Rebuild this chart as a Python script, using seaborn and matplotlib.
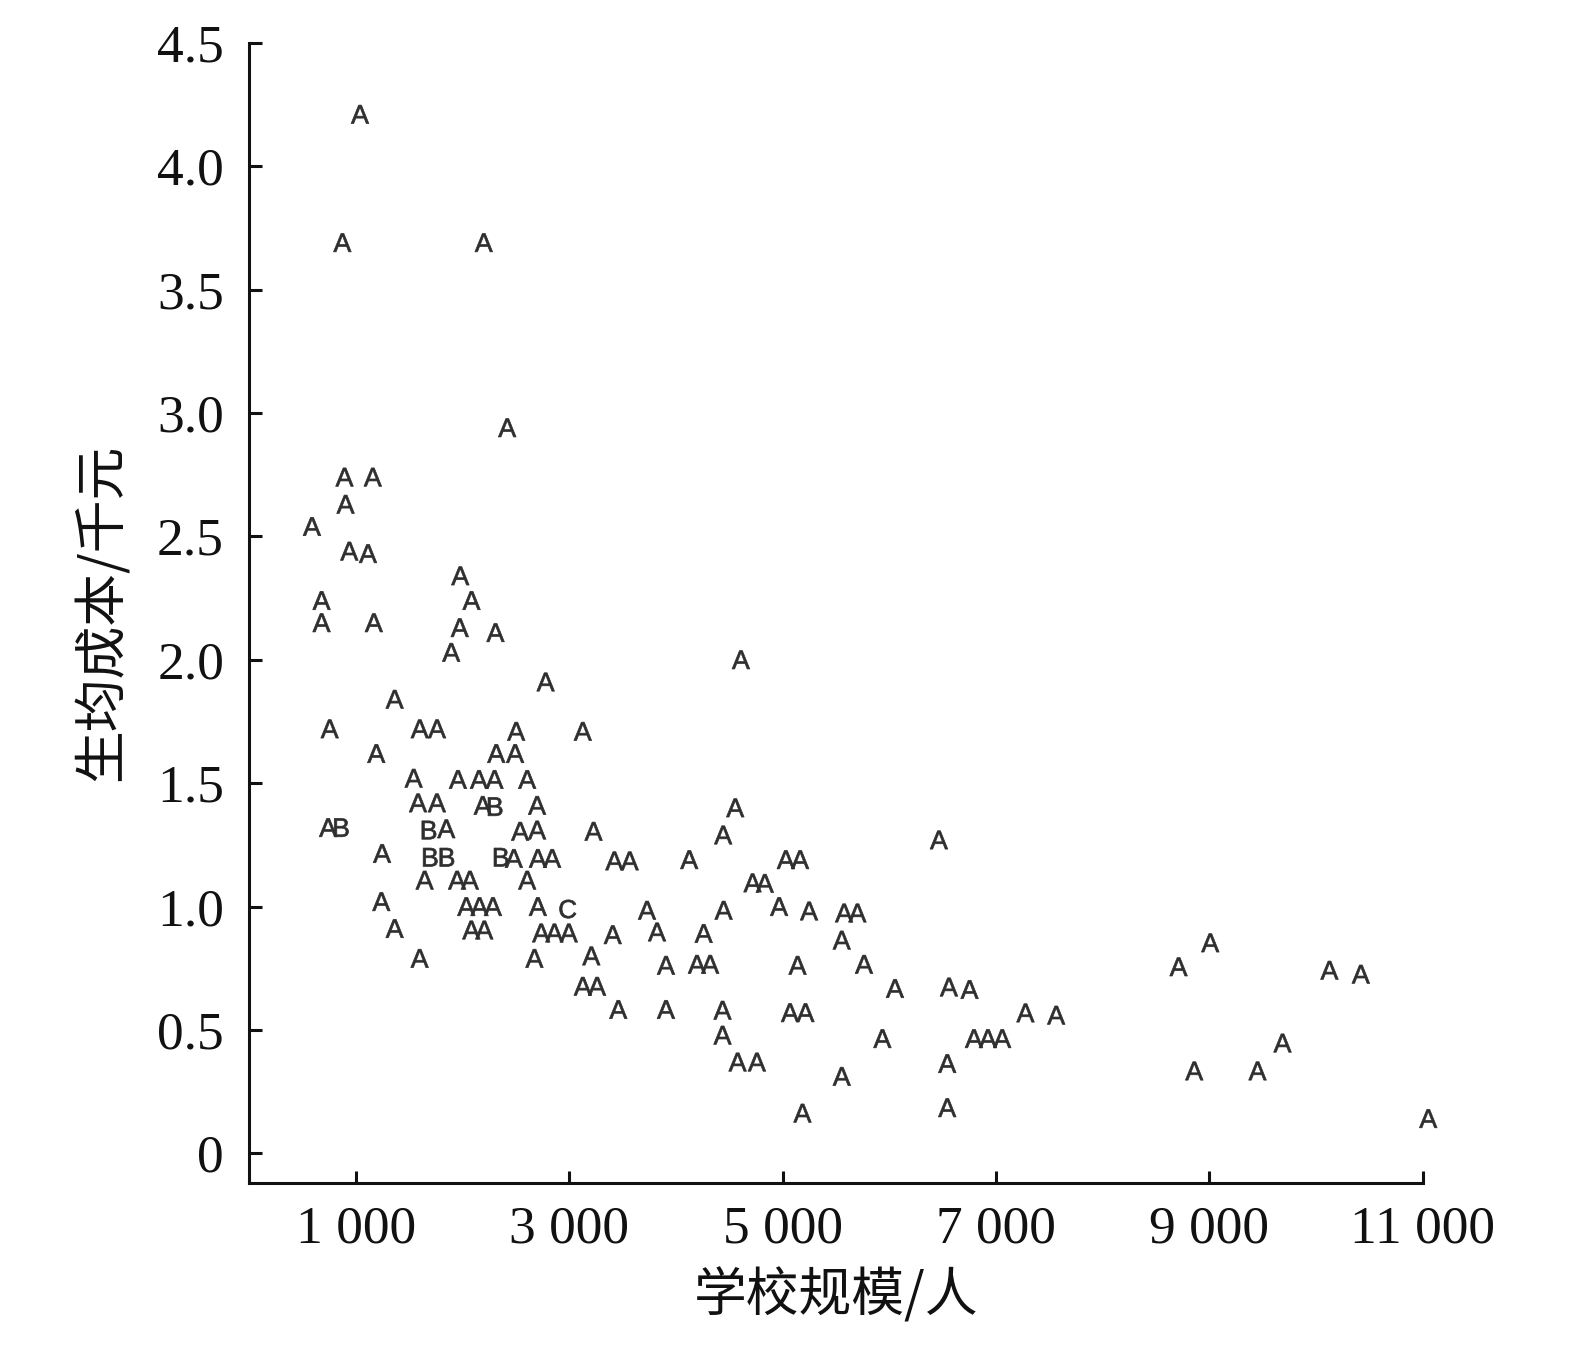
import matplotlib
matplotlib.use("Agg")
import matplotlib.pyplot as plt
import pandas as pd
import seaborn as sns

# ---- data ----
school_size = [
    1040, 875, 2200, 2420, 895, 1160, 905, 590, 940, 1115,
    1980, 2085, 680, 680, 1170, 1975, 2310, 1895, 4610, 2780,
    1365, 756, 1600, 1762, 2504, 3128, 1193, 2317, 2494, 1543,
    1958, 2155, 2301, 2607, 1584, 1761, 2190, 2307, 2700, 4557,
    741, 866, 1687, 1849, 2541, 2700, 3229, 4444, 6466, 1247,
    1699, 1855, 2363, 2482, 2707, 2841, 3424, 3568, 4126, 5031,
    5165, 1646, 1950, 2070, 2607, 4719, 4834, 1240, 2036, 2160,
    2286, 2707, 2988, 3730, 4448, 4968, 5249, 5577, 5702, 1365,
    2083, 2205, 2738, 2862, 2997, 3409, 3824, 4261, 5555, 3208,
    1599, 2675, 3908, 4198, 4322, 5141, 5764, 8712, 9009, 10126,
    10420, 3128, 3262, 6054, 6560, 6753, 3461, 3908, 4438, 5070,
    5215, 7277, 7565, 4438, 5936, 6794, 6925, 7059, 9686, 4579,
    4760, 6544, 8859, 9452, 5555, 6544, 5187, 11052,
]
unit_cost = [
    4.21, 3.69, 3.69, 2.94, 2.74, 2.74, 2.63, 2.54, 2.44, 2.43,
    2.34, 2.24, 2.24, 2.15, 2.15, 2.13, 2.11, 2.03, 2.00, 1.91,
    1.84, 1.72, 1.72, 1.72, 1.71, 1.71, 1.62, 1.62, 1.62, 1.52,
    1.515, 1.515, 1.515, 1.515, 1.42, 1.42, 1.41, 1.405, 1.41, 1.40,
    1.32, 1.32, 1.31, 1.315, 1.305, 1.31, 1.305, 1.29, 1.27, 1.215,
    1.20, 1.20, 1.20, 1.195, 1.195, 1.195, 1.185, 1.185, 1.19, 1.19,
    1.19, 1.107, 1.107, 1.107, 1.107, 1.096, 1.094, 1.02, 1.00, 1.00,
    1.00, 1.00, 0.99, 0.985, 0.985, 1.00, 0.982, 0.974, 0.974, 0.911,
    0.905, 0.905, 0.893, 0.893, 0.893, 0.886, 0.897, 0.891, 0.864, 0.80,
    0.79, 0.79, 0.762, 0.766, 0.766, 0.762, 0.766, 0.756, 0.853, 0.742,
    0.726, 0.677, 0.677, 0.668, 0.674, 0.664, 0.583, 0.583, 0.58, 0.57,
    0.57, 0.569, 0.560, 0.479, 0.465, 0.465, 0.465, 0.465, 0.447, 0.370,
    0.370, 0.364, 0.334, 0.334, 0.312, 0.185, 0.163, 0.141,
]
point_letter = [
    "A", "A", "A", "A", "A", "A", "A", "A", "A", "A",
    "A", "A", "A", "A", "A", "A", "A", "A", "A", "A",
    "A", "A", "A", "A", "A", "A", "A", "A", "A", "A",
    "A", "A", "A", "A", "A", "A", "A", "B", "A", "A",
    "A", "B", "B", "A", "A", "A", "A", "A", "A", "A",
    "B", "B", "B", "A", "A", "A", "A", "A", "A", "A",
    "A", "A", "A", "A", "A", "A", "A", "A", "A", "A",
    "A", "A", "C", "A", "A", "A", "A", "A", "A", "A",
    "A", "A", "A", "A", "A", "A", "A", "A", "A", "A",
    "A", "A", "A", "A", "A", "A", "A", "A", "A", "A",
    "A", "A", "A", "A", "A", "A", "A", "A", "A", "A",
    "A", "A", "A", "A", "A", "A", "A", "A", "A", "A",
    "A", "A", "A", "A", "A", "A", "A", "A",
]

x_ticks = [1000, 3000, 5000, 7000, 9000, 11000]
x_tick_labels = ["1 000", "3 000", "5 000", "7 000", "9 000", "11 000"]
y_ticks = [0, 0.5, 1.0, 1.5, 2.0, 2.5, 3.0, 3.5, 4.0, 4.5]
y_tick_labels = ["0", "0.5", "1.0", "1.5", "2.0", "2.5", "3.0", "3.5", "4.0", "4.5"]
x_label = "学校规模/人"
y_label = "生均成本/千元"

# ---- style ----
sns.set_style("ticks")
plt.rcParams["font.family"] = ["Liberation Serif", "DejaVu Sans"]
plt.rcParams["mathtext.fontset"] = "custom"
plt.rcParams["mathtext.sf"] = "Liberation Sans"

fig = plt.figure(figsize=(15.75, 13.48), dpi=100)
ax = fig.add_axes([0.1581, 0.1224, 0.7452, 0.8459])

df = pd.DataFrame({"size": school_size, "cost": unit_cost, "letter": point_letter})
marker_map = {"A": r"$\mathsf{A}$", "B": r"$\mathsf{B}$", "C": r"$\mathsf{C}$"}
sns.scatterplot(data=df, x="size", y="cost", style="letter", markers=marker_map,
                color="#2e2e2e", s=175, linewidth=0.5, edgecolor="#2e2e2e",
                legend=False, ax=ax, clip_on=False)

ax.set_xlim(0, 11000)
ax.set_ylim(-0.12, 4.5)
ax.set_xticks(x_ticks, labels=x_tick_labels)
ax.set_yticks(y_ticks, labels=y_tick_labels)

sns.despine(ax=ax)
for side in ("left", "bottom"):
    ax.spines[side].set_linewidth(2.2)
    ax.spines[side].set_color("#111111")

ax.tick_params(axis="both", direction="in", length=9, width=2.2,
               color="#111111", labelsize=38.5, labelcolor="#111111")
ax.tick_params(axis="x", pad=16)
ax.tick_params(axis="y", pad=18)

ax.set_xlabel(x_label, fontsize=38, family=["Noto Sans CJK SC", "DejaVu Sans"],
              color="#111111")
ax.set_ylabel(y_label, fontsize=38, family=["Noto Sans CJK SC", "DejaVu Sans"],
              color="#111111")
ax.xaxis.label.set_va("center")
ax.yaxis.label.set_va("center")
ax.xaxis.set_label_coords(0.5, -0.099)
ax.yaxis.set_label_coords(-0.125, 0.5)

fig.savefig("out.png", dpi=100, facecolor="white")
